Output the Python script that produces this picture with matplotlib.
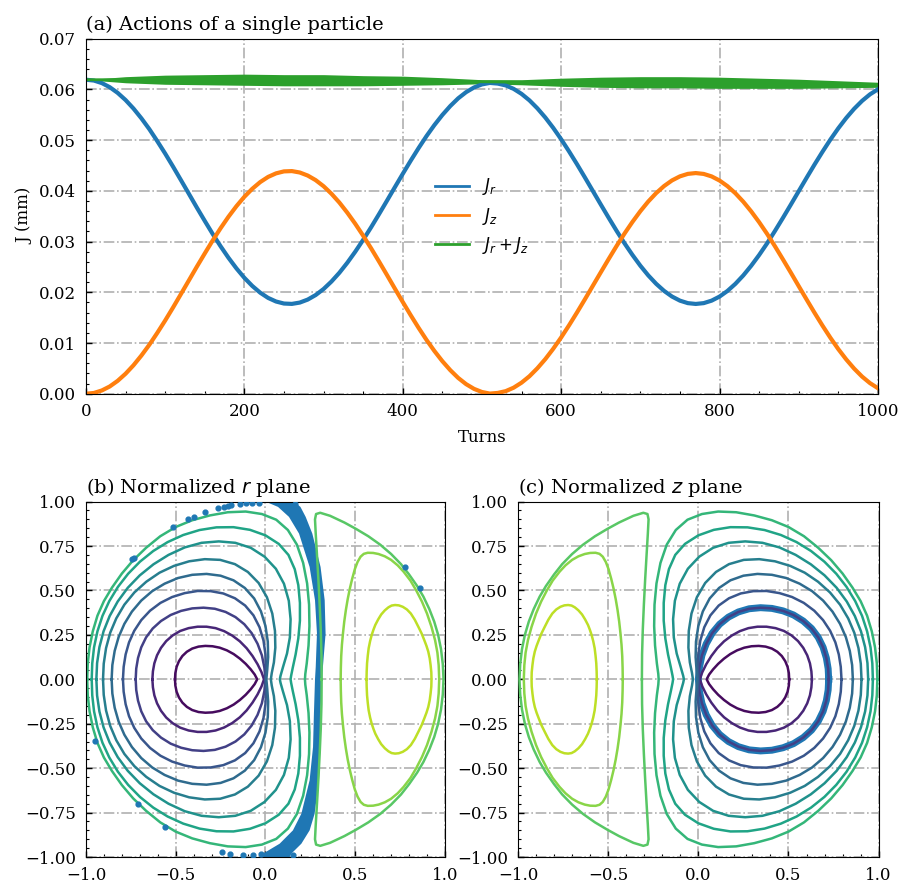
import numpy as np
import matplotlib.pyplot as plt
from matplotlib.ticker import MultipleLocator

plt.rcParams['font.family'] = 'serif'
plt.rcParams['font.serif'] = ['DejaVu Serif']
plt.rcParams['font.size'] = 12

# ---- (a) actions vs turns ----
turns = list(range(0, 1001, 10))
j_r = [0.06190, 0.06174, 0.06124, 0.06043, 0.05931, 0.05790, 0.05622, 0.05429,
       0.05216, 0.04981, 0.04735, 0.04476, 0.04209, 0.03940, 0.03670, 0.03407,
       0.03150, 0.02907, 0.02679, 0.02471, 0.02285, 0.02125, 0.01992, 0.01889,
       0.01818, 0.01778, 0.01771, 0.01797, 0.01856, 0.01945, 0.02064, 0.02212,
       0.02385, 0.02582, 0.02799, 0.03033, 0.03280, 0.03539, 0.03803, 0.04070,
       0.04334, 0.04593, 0.04842, 0.05079, 0.05297, 0.05495, 0.05671, 0.05823,
       0.05945, 0.06037, 0.06098, 0.06127, 0.06114, 0.06078, 0.06010, 0.05911,
       0.05783, 0.05626, 0.05445, 0.05241, 0.05017, 0.04777, 0.04525, 0.04264,
       0.03998, 0.03732, 0.03469, 0.03212, 0.02966, 0.02737, 0.02524, 0.02333,
       0.02167, 0.02027, 0.01916, 0.01835, 0.01786, 0.01770, 0.01786, 0.01835,
       0.01915, 0.02026, 0.02166, 0.02332, 0.02523, 0.02734, 0.02963, 0.03209,
       0.03465, 0.03727, 0.03993, 0.04258, 0.04519, 0.04770, 0.05010, 0.05233,
       0.05436, 0.05617, 0.05773, 0.05902, 0.06001]
j_z = [0.00000, 0.00015, 0.00064, 0.00143, 0.00254, 0.00394, 0.00561, 0.00753,
       0.00965, 0.01198, 0.01443, 0.01701, 0.01967, 0.02235, 0.02504, 0.02765,
       0.03021, 0.03263, 0.03490, 0.03697, 0.03882, 0.04040, 0.04172, 0.04274,
       0.04344, 0.04383, 0.04389, 0.04361, 0.04301, 0.04211, 0.04091, 0.03942,
       0.03768, 0.03569, 0.03351, 0.03116, 0.02868, 0.02608, 0.02343, 0.02074,
       0.01809, 0.01549, 0.01299, 0.01061, 0.00842, 0.00642, 0.00465, 0.00312,
       0.00189, 0.00096, 0.00034, 0.00003, 0.00016, 0.00051, 0.00119, 0.00218,
       0.00345, 0.00502, 0.00682, 0.00886, 0.01109, 0.01349, 0.01601, 0.01861,
       0.02127, 0.02392, 0.02655, 0.02912, 0.03157, 0.03386, 0.03598, 0.03789,
       0.03955, 0.04094, 0.04205, 0.04285, 0.04334, 0.04350, 0.04333, 0.04284,
       0.04203, 0.04092, 0.03952, 0.03785, 0.03594, 0.03382, 0.03153, 0.02907,
       0.02650, 0.02388, 0.02121, 0.01856, 0.01595, 0.01343, 0.01103, 0.00879,
       0.00676, 0.00495, 0.00338, 0.00209, 0.00109]
# J_r + J_z: centre of the fast-ripple band and its half width
turns_sum = [0, 50, 100, 150, 200, 250, 300, 350, 400, 450, 500, 550, 600,
             650, 700, 750, 800, 850, 900, 950, 1000]
j_sum_mid = [0.0619, 0.0619, 0.0619, 0.0619, 0.0619, 0.0618, 0.0618, 0.0617,
             0.0617, 0.0616, 0.0615, 0.0614, 0.0614, 0.0614, 0.0614, 0.0614,
             0.0613, 0.0612, 0.0611, 0.0610, 0.0609]
j_sum_half = [0.0000, 0.0006, 0.0009, 0.0010, 0.0011, 0.0011, 0.0011, 0.0010,
              0.0009, 0.0007, 0.0004, 0.0005, 0.0008, 0.0010, 0.0011, 0.0011,
              0.0011, 0.0010, 0.0009, 0.0007, 0.0005]

# ---- (b) invariant curves in the normalized r plane (upper halves, x, p) ----
loop_1 = [(-0.504, 0), (-0.502, 0.035), (-0.495, 0.070), (-0.482, 0.102),
          (-0.463, 0.131), (-0.438, 0.155), (-0.408, 0.173), (-0.373, 0.184),
          (-0.335, 0.188), (-0.295, 0.186), (-0.255, 0.178), (-0.215, 0.163),
          (-0.177, 0.142), (-0.142, 0.116), (-0.110, 0.087), (-0.082, 0.056),
          (-0.060, 0.027), (-0.046, 0)]
loop_2 = [(-0.630, 0), (-0.627, 0.045), (-0.619, 0.090), (-0.604, 0.135),
          (-0.582, 0.177), (-0.553, 0.215), (-0.517, 0.247), (-0.475, 0.272),
          (-0.428, 0.288), (-0.378, 0.296), (-0.328, 0.296), (-0.278, 0.288),
          (-0.230, 0.271), (-0.185, 0.246), (-0.143, 0.214), (-0.105, 0.175),
          (-0.072, 0.131), (-0.044, 0.085), (-0.022, 0.040), (-0.008, 0)]
loop_3 = [(-0.723, 0), (-0.720, 0.060), (-0.710, 0.120), (-0.692, 0.180),
          (-0.665, 0.236), (-0.628, 0.286), (-0.582, 0.328), (-0.528, 0.362),
          (-0.470, 0.385), (-0.408, 0.399), (-0.345, 0.403), (-0.282, 0.397),
          (-0.222, 0.379), (-0.167, 0.350), (-0.118, 0.310), (-0.077, 0.260),
          (-0.044, 0.200), (-0.020, 0.135), (-0.006, 0.066), (0.0, 0)]
loop_4 = [(-0.794, 0), (-0.790, 0.070), (-0.779, 0.140), (-0.760, 0.208),
          (-0.731, 0.273), (-0.692, 0.333), (-0.643, 0.386), (-0.585, 0.430),
          (-0.520, 0.463), (-0.450, 0.485), (-0.378, 0.497), (-0.305, 0.496),
          (-0.235, 0.483), (-0.170, 0.456), (-0.113, 0.415), (-0.067, 0.360),
          (-0.033, 0.293), (-0.011, 0.218), (0.000, 0.140), (0.003, 0.068),
          (0.0, 0)]
loop_5 = [(-0.857, 0), (-0.853, 0.080), (-0.840, 0.160), (-0.818, 0.238),
          (-0.786, 0.312), (-0.744, 0.381), (-0.692, 0.443), (-0.631, 0.496),
          (-0.562, 0.538), (-0.487, 0.570), (-0.408, 0.588), (-0.328, 0.593),
          (-0.250, 0.583), (-0.178, 0.557), (-0.115, 0.514), (-0.063, 0.455),
          (-0.025, 0.382), (0.000, 0.300), (0.013, 0.212), (0.015, 0.125),
          (0.010, 0.055), (0.005, 0)]
loop_6 = [(-0.905, 0), (-0.901, 0.088), (-0.888, 0.176), (-0.865, 0.262),
          (-0.831, 0.343), (-0.786, 0.420), (-0.730, 0.489), (-0.664, 0.549),
          (-0.590, 0.600), (-0.510, 0.638), (-0.425, 0.664), (-0.338, 0.676),
          (-0.252, 0.672), (-0.170, 0.648), (-0.098, 0.604), (-0.038, 0.542),
          (0.008, 0.462), (0.038, 0.370), (0.053, 0.272), (0.055, 0.178),
          (0.047, 0.095), (0.035, 0.035), (0.030, 0)]
loop_7 = [(-0.942, 0), (-0.938, 0.091), (-0.925, 0.181), (-0.902, 0.270),
          (-0.868, 0.356), (-0.823, 0.438), (-0.767, 0.515), (-0.700, 0.585),
          (-0.624, 0.647), (-0.540, 0.700), (-0.450, 0.742), (-0.356, 0.768),
          (-0.260, 0.776), (-0.168, 0.768), (-0.082, 0.740), (-0.005, 0.690),
          (0.058, 0.622), (0.103, 0.538), (0.130, 0.442), (0.140, 0.338),
          (0.136, 0.236), (0.120, 0.145), (0.098, 0.070), (0.084, 0.020),
          (0.080, 0)]
loop_8 = [(-0.968, 0), (-0.965, 0.090), (-0.955, 0.180), (-0.936, 0.270),
          (-0.908, 0.357), (-0.870, 0.440), (-0.822, 0.520), (-0.765, 0.594),
          (-0.699, 0.662), (-0.625, 0.722), (-0.545, 0.772), (-0.458, 0.812),
          (-0.367, 0.840), (-0.273, 0.855), (-0.178, 0.856), (-0.086, 0.841),
          (0.000, 0.810), (0.074, 0.762), (0.128, 0.700), (0.163, 0.620),
          (0.183, 0.530), (0.192, 0.430), (0.192, 0.330), (0.183, 0.230),
          (0.168, 0.140), (0.152, 0.065), (0.143, 0.020), (0.140, 0)]
loop_9 = [(-0.993, 0), (-0.990, 0.090), (-0.980, 0.180), (-0.962, 0.270),
          (-0.936, 0.358), (-0.900, 0.440), (-0.855, 0.516), (-0.800, 0.595),
          (-0.737, 0.670), (-0.665, 0.740), (-0.586, 0.805), (-0.500, 0.857),
          (-0.408, 0.895), (-0.310, 0.922), (-0.210, 0.940), (-0.110, 0.944),
          (-0.020, 0.930), (0.060, 0.898), (0.125, 0.840), (0.175, 0.758),
          (0.210, 0.655), (0.232, 0.540), (0.243, 0.420), (0.245, 0.300),
          (0.240, 0.190), (0.230, 0.090), (0.222, 0.030), (0.220, 0)]
island_1 = [(0.313, 0), (0.312, 0.140), (0.308, 0.280), (0.302, 0.420),
            (0.295, 0.560), (0.287, 0.700), (0.280, 0.820), (0.276, 0.900),
            (0.282, 0.930), (0.305, 0.937), (0.360, 0.920), (0.440, 0.882),
            (0.505, 0.846), (0.573, 0.805), (0.640, 0.757), (0.700, 0.705),
            (0.755, 0.648), (0.800, 0.590), (0.845, 0.525), (0.880, 0.465),
            (0.913, 0.395), (0.940, 0.325), (0.962, 0.250), (0.978, 0.170),
            (0.988, 0.085), (0.992, 0)]
island_2 = [(0.419, 0), (0.420, 0.065), (0.422, 0.130), (0.426, 0.195),
            (0.432, 0.260), (0.439, 0.325), (0.448, 0.390), (0.458, 0.450),
            (0.470, 0.510), (0.483, 0.565), (0.498, 0.620), (0.513, 0.660),
            (0.530, 0.690), (0.548, 0.706), (0.570, 0.712), (0.600, 0.711),
            (0.630, 0.705), (0.665, 0.692), (0.700, 0.672), (0.737, 0.641),
            (0.770, 0.605), (0.808, 0.555), (0.840, 0.500), (0.872, 0.437),
            (0.900, 0.370), (0.925, 0.295), (0.945, 0.220), (0.958, 0.150),
            (0.965, 0.080), (0.968, 0)]
island_3 = [(0.563, 0), (0.564, 0.045), (0.566, 0.090), (0.570, 0.133),
            (0.575, 0.175), (0.583, 0.215), (0.592, 0.250), (0.602, 0.280),
            (0.612, 0.306), (0.628, 0.337), (0.645, 0.365), (0.665, 0.388),
            (0.685, 0.405), (0.703, 0.415), (0.722, 0.418), (0.743, 0.416),
            (0.765, 0.408), (0.788, 0.393), (0.810, 0.370), (0.832, 0.335),
            (0.852, 0.295), (0.870, 0.258), (0.885, 0.220), (0.897, 0.188),
            (0.907, 0.156), (0.915, 0.118), (0.920, 0.080), (0.924, 0.040),
            (0.925, 0)]
curves = [loop_1, loop_2, loop_3, loop_4, loop_5, loop_6, loop_7, loop_8,
          loop_9, island_1, island_2, island_3]

# tracked particle in the r plane: dense band (edges) and scattered turns
band_y = [1.01, 1.0, 0.97, 0.914, 0.82, 0.632, 0.445, 0.257, 0.069, 0.0,
          -0.193, -0.381, -0.568, -0.756, -0.85, -0.925, -0.981, -1.01]
band_left = [-0.03, 0.0, 0.07, 0.131, 0.187, 0.246, 0.276, 0.287, 0.280,
             0.276, 0.270, 0.265, 0.246, 0.200, 0.153, 0.079, -0.014, -0.03]
band_right = [0.15, 0.16, 0.195, 0.224, 0.261, 0.307, 0.330, 0.335, 0.320,
              0.315, 0.306, 0.306, 0.298, 0.274, 0.246, 0.200, 0.144, 0.13]
dots_x = [-0.732, -0.742, -0.515, -0.430, -0.398, -0.337, -0.263, -0.231,
          -0.207, -0.194, -0.144, -0.110, -0.073, -0.036, 0.165, 0.777, 0.863,
          -0.952, -0.710, -0.561, -0.240, -0.196, -0.125, -0.069, -0.023, 0.153]
dots_y = [0.685, 0.677, 0.859, 0.902, 0.916, 0.940, 0.962, 0.972, 0.977,
          0.981, 0.987, 0.991, 0.992, 0.993, 0.985, 0.634, 0.516, -0.349,
          -0.704, -0.831, -0.972, -0.981, -0.989, -0.991, -0.985, -0.991]

BLUE, ORANGE, GREEN = '#1f77b4', '#ff7f0e', '#2ca02c'
colors = plt.cm.viridis(np.linspace(0.03, 0.9, len(curves)))


def closed(half, flip=False):
    pts = np.asarray(half, dtype=float)
    low = pts[::-1] * [1, -1]
    loop = np.vstack([pts, low[1:]])
    if flip:
        loop[:, 0] *= -1
    return loop


def style(ax):
    ax.tick_params(which='both', direction='in', top=False, right=False, pad=7)
    ax.tick_params(which='major', length=4.5, width=1)
    ax.tick_params(which='minor', length=2.5, width=0.8)
    ax.grid(True, which='major', color='#b0b0b0', linestyle='-.', linewidth=1.2)
    ax.set_axisbelow(True)


fig = plt.figure(figsize=(9.02, 8.84), dpi=100)
ax_a = fig.add_axes([0.0953, 0.5546, 0.878, 0.4017])
ax_b = fig.add_axes([0.0953, 0.0305, 0.398, 0.4021])
ax_c = fig.add_axes([0.5743, 0.0305, 0.3998, 0.4021])

ax_a.plot(turns, j_r, color=BLUE, lw=3, label='$J_r$')
ax_a.plot(turns, j_z, color=ORANGE, lw=3, label='$J_z$')
lo = np.array(j_sum_mid) - np.array(j_sum_half)
hi = np.array(j_sum_mid) + np.array(j_sum_half)
ax_a.fill_between(turns_sum, lo, hi, color=GREEN, lw=0)
ax_a.plot(turns_sum, j_sum_mid, color=GREEN, lw=2, label='$J_r+J_z$')
ax_a.set_xlim(0, 1000)
ax_a.set_ylim(0, 0.07)
ax_a.xaxis.set_major_locator(MultipleLocator(200))
ax_a.xaxis.set_minor_locator(MultipleLocator(50))
ax_a.yaxis.set_major_locator(MultipleLocator(0.01))
ax_a.yaxis.set_minor_locator(MultipleLocator(0.002))
ax_a.yaxis.set_major_formatter(plt.FormatStrFormatter('%.2f'))
ax_a.set_xlabel('Turns', labelpad=6)
ax_a.set_ylabel('J (mm)')
ax_a.set_title('(a) Actions of a single particle', loc='left', fontsize=14)
style(ax_a)
leg = ax_a.legend(loc='center', frameon=False, fontsize=12)
for line in leg.get_lines():
    line.set_linewidth(2)

# (b) r plane
ax_b.fill(band_left + band_right[::-1], band_y + band_y[::-1], color=BLUE, lw=0)
ax_b.scatter(dots_x, dots_y, s=12, color=BLUE, zorder=3)
for half, col in zip(curves, colors):
    loop = closed(half)
    ax_b.plot(loop[:, 0], loop[:, 1], color=col, lw=1.8, zorder=2,
              solid_joinstyle='round')
ax_b.set_title('(b) Normalized $r$ plane', loc='left', fontsize=14)

# (c) z plane: same invariants mirrored, particle orbit on the third loop
orbit = closed(loop_3, flip=True)
ax_c.plot(orbit[:, 0], orbit[:, 1], color=BLUE, lw=5, zorder=2)
for half, col in zip(curves, colors):
    loop = closed(half, flip=True)
    ax_c.plot(loop[:, 0], loop[:, 1], color=col, lw=1.8, zorder=3,
              solid_joinstyle='round')
ax_c.set_title('(c) Normalized $z$ plane', loc='left', fontsize=14)

for ax in (ax_b, ax_c):
    ax.set_xlim(-1, 1)
    ax.set_ylim(-1, 1)
    ax.xaxis.set_major_locator(MultipleLocator(0.5))
    ax.xaxis.set_minor_locator(MultipleLocator(0.1))
    ax.yaxis.set_major_locator(MultipleLocator(0.25))
    ax.yaxis.set_minor_locator(MultipleLocator(0.05))
    style(ax)

fig.savefig('out.png', dpi=100)
